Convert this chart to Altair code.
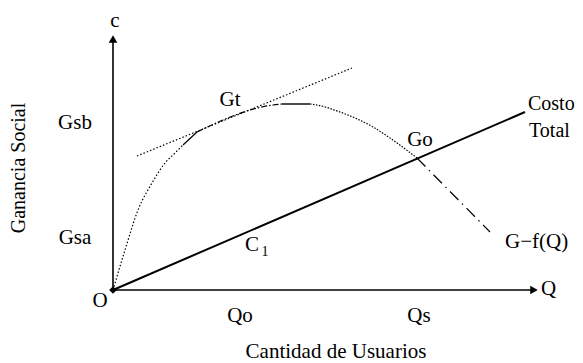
import altair as alt
import pandas as pd

# ---- curve data (Q = cantidad de usuarios, G = ganancia social), arbitrary units ----
g_rise_q = [0, 12, 25, 39, 52, 62, 70]
g_rise_g = [0, 40, 80, 107, 127, 137, 145]
g_join_q = [70, 84]
g_join_g = [145, 158]
g_tan_q = [84, 110, 137, 160, 169]
g_tan_g = [158, 170, 180, 185, 186]
g_top_q = [169, 197]
g_top_g = [186, 186]
g_fall_q = [197, 204, 227, 260, 284, 304]
g_fall_g = [186, 185, 178, 163, 147, 132]
g_tail_q = [304, 377]
g_tail_g = [132, 58]

cost_q = [0, 412]
cost_g = [0, 178]

tangent_q = [24, 239]
tangent_g = [134, 222]

yaxis_q = [0, 0]
yaxis_g = [0, 248]
xaxis_q = [0, 418]
xaxis_g = [0, 0]

# labels
lab_text = ["c", "Gsb", "Gsa", "Gt", "Go", "C", "O", "Qo", "Qs", "Cantidad de Usuarios"]
lab_q = [2, -38, -38, 117, 307, 139, -13, 127, 306, 223]
lab_g = [269, 167, 52, 190, 150, 45, -11, -26, -26, -62]

left_text = ["G\u2212f(Q)", "Q"]
left_q = [392, 428]
left_g = [48, 1]

cost_text = ["Costo", "Total"]
cost_lq = [415, 416]
cost_lg = [186, 159]

X = alt.X("q:Q", scale=alt.Scale(domain=[-105, 455], nice=False, zero=False), axis=None)
Y = alt.Y("g:Q", scale=alt.Scale(domain=[-65, 278], nice=False, zero=False), axis=None)


def seg(q, g, dash=None, width=1.0, interp="monotone"):
    df = pd.DataFrame({"q": q, "g": g, "i": list(range(len(q)))})
    kw = dict(color="black", strokeWidth=width, interpolate=interp)
    if dash is not None:
        kw["strokeDash"] = dash
    return alt.Chart(df).mark_line(**kw).encode(x=X, y=Y, order="i:O")


FONT = "Liberation Serif"

layers = [
    seg(yaxis_q, yaxis_g, width=1.6, interp="linear"),
    seg(xaxis_q, xaxis_g, width=1.6, interp="linear"),
    seg(cost_q, cost_g, width=2.0, interp="linear"),
    seg(tangent_q, tangent_g, dash=[1.5, 2], width=1.2, interp="linear"),
    seg(g_rise_q, g_rise_g, dash=[1.5, 2], width=1.2),
    seg(g_join_q, g_join_g, width=1.2, interp="linear"),
    seg(g_tan_q, g_tan_g, dash=[6, 2, 1.5, 2], width=1.2),
    seg(g_top_q, g_top_g, width=1.4, interp="linear"),
    seg(g_fall_q, g_fall_g, dash=[1.5, 1.5], width=1.2),
    seg(g_tail_q, g_tail_g, dash=[12, 5, 1.5, 5], width=1.2, interp="linear"),
]

arrows = pd.DataFrame({"q": [0, 421], "g": [251, 0], "shape": ["triangle-up", "triangle-right"]})
layers.append(
    alt.Chart(arrows).mark_point(filled=True, color="black", size=75, opacity=1).encode(
        x=X, y=Y, shape=alt.Shape("shape:N", scale=None)
    )
)
origin = pd.DataFrame({"q": [0], "g": [0]})
layers.append(
    alt.Chart(origin).mark_point(filled=True, color="black", size=60, shape="diamond", opacity=1).encode(x=X, y=Y)
)

labels = pd.DataFrame({"q": lab_q, "g": lab_g, "t": lab_text})
layers.append(
    alt.Chart(labels).mark_text(font=FONT, fontSize=21, color="black", align="center", baseline="middle").encode(
        x=X, y=Y, text="t:N"
    )
)
left_labels = pd.DataFrame({"q": left_q, "g": left_g, "t": left_text})
layers.append(
    alt.Chart(left_labels).mark_text(font=FONT, fontSize=21, color="black", align="left", baseline="middle").encode(
        x=X, y=Y, text="t:N"
    )
)
cost_labels = pd.DataFrame({"q": cost_lq, "g": cost_lg, "t": cost_text})
layers.append(
    alt.Chart(cost_labels).mark_text(font=FONT, fontSize=20, color="black", align="left", baseline="middle").encode(
        x=X, y=Y, text="t:N"
    )
)
sub = pd.DataFrame({"q": [152], "g": [38], "t": ["1"]})
layers.append(
    alt.Chart(sub).mark_text(font=FONT, fontSize=14, color="black", align="center", baseline="middle").encode(
        x=X, y=Y, text="t:N"
    )
)
ylab = pd.DataFrame({"q": [-94], "g": [122], "t": ["Ganancia Social"]})
layers.append(
    alt.Chart(ylab).mark_text(font=FONT, fontSize=20, color="black", align="center", baseline="middle", angle=270).encode(
        x=X, y=Y, text="t:N"
    )
)

chart = (
    alt.layer(*layers)
    .properties(width=560, height=343, padding={"left": 0, "top": 4, "right": 7, "bottom": 8},
                autosize=alt.AutoSizeParams(type="none"), background="white")
    .configure_view(stroke=None)
)

chart.save("out.html", embed_options={"renderer": "svg", "actions": False})
